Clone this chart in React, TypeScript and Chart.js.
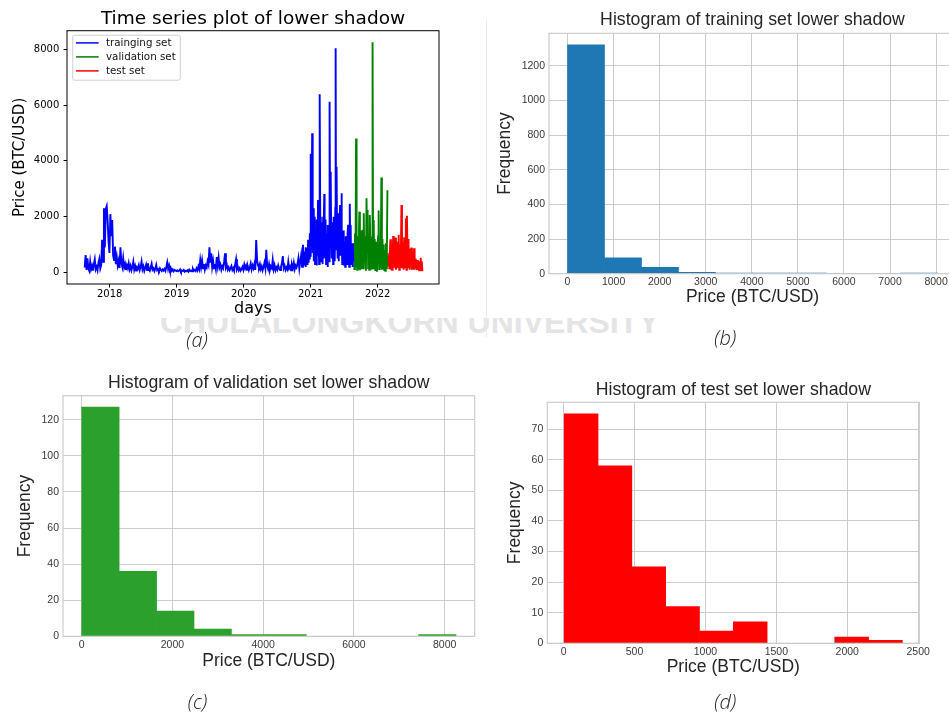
import React, { useEffect, useRef } from "react";
import { Chart, registerables } from "chart.js";

Chart.register(...registerables);

// ---------------- (a) time series of the lower shadow ----------------
const TRAIN_START_YEAR = 2017.627;
const TRAIN_STEP_DAYS = 5;
const TRAIN_LATE_START_YEAR = 2020.896;
const TRAIN_LATE_STEP_DAYS = 2;
const VAL_START_YEAR = 2021.636;
const VAL_STEP_DAYS = 3;
const TEST_START_YEAR = 2022.149;
const TEST_STEP_DAYS = 3;

const seriesLabels = ["trainging set", "validation set", "test set"];

// training set, Aug 2017 - Nov 2020 (every 5 days)
const trainValues = [
  180, 620, 90, 510, 150, 60, 390, 120, 240, 70, 300, 470, 110, 200, 80, 350, 490, 140, 260, 1170,
  380, 2300, 900, 2280, 2380, 1885, 1100, 700, 2090, 1300, 1880, 600, 450, 930, 300, 550, 250,
  420, 160, 900, 350, 200, 510, 180, 300, 90, 260, 150, 330, 120, 240, 80, 200, 390, 100, 230, 70, 180, 140, 260, 90,
  200, 390, 110, 220, 60, 170, 280, 90, 330, 120, 60, 180, 310, 100, 150, 50, 140, 270, 80, 120,
  60, 150, 90, 50, 110, 70, 130, 60, 200, 360, 120, 250, 90, 150, 60, 110, 40, 90, 70, 50,
  80, 40, 60, 110, 30, 70, 50, 90, 30, 60, 40, 80, 30, 100, 50, 70, 40, 130, 60, 90, 50, 150,
  80, 220, 120, 450, 200, 430, 150, 300, 100, 250, 180, 400, 280, 900, 350, 690, 200, 420, 150, 300,
  120, 550, 250, 530, 180, 280, 100, 220, 150, 380, 690, 180, 270, 100, 180, 80, 150, 230, 90, 160,
  60, 280, 470, 120, 200, 80, 150, 60, 120, 200, 90,
  280, 150, 250, 100, 200, 80, 180, 320, 110, 250, 150, 300, 90, 1160, 420, 250, 180, 300, 120, 220,
  80, 200, 350, 150, 810, 230, 120, 300, 90, 200, 150, 450, 120, 260, 80, 180, 100, 250, 130, 90,
  200, 330, 590, 150, 240, 90, 180, 110, 390, 150, 220, 80, 280, 160, 350, 120, 250, 180, 300, 510,
  150, 400, 630, 200, 990,
];

// training set, Nov 2020 - Aug 2021 (every 2 days)
const trainLateValues = [
  300, 700, 250, 750, 400, 900, 200, 600, 870, 300, 800, 450, 1170, 350, 900, 500, 1000, 1410, 600,
  4250, 1200, 800, 2000, 4990, 1500, 700, 2300, 400, 1300, 900, 2000, 300, 1400, 800, 1100, 250, 1900, 900, 1400,
  2600, 600, 1200, 300, 1600, 6390, 2000, 900, 1500, 400, 1800, 700, 1300, 300, 2000, 1000, 1600, 2810, 500, 1200,
  700, 1900, 300, 1400, 900, 1200, 200, 1700, 800, 1500, 400, 2100, 6120, 1600, 900, 3610, 1200, 500, 1800, 800,
  1400, 300, 2000, 1100, 600, 1500, 400, 2300, 8030, 1400, 800, 3790, 1300, 500, 1600, 2120, 400, 1300, 800, 1700,
  2420, 600, 1500, 900, 2840, 1200, 300, 1000, 700, 1500, 250, 1100, 600, 900, 200, 1300, 500, 800, 1170, 300,
  900, 1400, 1710, 400, 1000, 200, 1200, 2460, 800, 1700, 300, 1000, 500, 800, 200, 1050, 400,
];

const validationValues = [
  400, 1050, 120, 1400, 200, 4800, 900, 100, 1300, 150,
  1100, 2180, 80, 900, 1500, 120, 1200, 1530, 150, 2120,
  400, 1300, 800, 60, 2660, 1000, 2240, 150, 1400, 100,
  2060, 900, 1290, 100, 700, 8250, 150, 1880, 400, 1200,
  90, 900, 1100, 30, 800, 1300, 2220, 120, 1100, 200,
  900, 3400, 100, 1200, 150, 1000, 100, 800, 60, 1050,
  150, 700, 2950,
];

const testValues = [
  700, 250, 600, 150, 800, 1190, 100, 900, 100, 700,
  1310, 150, 1000, 200, 1250, 100, 600, 1100, 150, 900,
  1350, 100, 1000, 200, 800, 2420, 150, 1100, 600, 100,
  1260, 150, 900, 1940, 100, 2030, 700, 1200, 150, 600,
  100, 850, 200, 890, 100, 700, 100, 600, 870, 100,
  500, 150, 450, 80, 450, 100, 350, 80, 400, 100,
  530, 80, 400, 50,
];

const yearTicks = [2018, 2019, 2020, 2021, 2022];
const priceTicks = [0, 2000, 4000, 6000, 8000];
const YEAR_AXIS_MIN = 2017.363;
const YEAR_AXIS_MAX = 2022.915;
const PRICE_AXIS_MIN = -412.5;
const PRICE_AXIS_MAX = 8662.5;

// ---------------- (b)(c)(d) histograms ----------------
const trainBinStart = 0;
const trainBinWidth = 803;
const trainCounts = [1321, 91, 37, 8, 2, 1, 2, 0, 0, 1];
const trainPriceTicks = [0, 1000, 2000, 3000, 4000, 5000, 6000, 7000, 8000];
const trainFreqTicks = [0, 200, 400, 600, 800, 1000, 1200];

const valBinStart = 0;
const valBinWidth = 825;
const valCounts = [127, 36, 14, 4, 1, 1, 0, 0, 0, 1];
const valPriceTicks = [0, 2000, 4000, 6000, 8000];
const valFreqTicks = [0, 20, 40, 60, 80, 100, 120];

const testBinStart = 4;
const testBinWidth = 238.5;
const testCounts = [75, 58, 25, 12, 4, 7, 0, 0, 2, 1];
const testPriceTicks = [0, 500, 1000, 1500, 2000, 2500];
const testFreqTicks = [0, 10, 20, 30, 40, 50, 60, 70];

// ---------------- styles ----------------
const DEJAVU = "'DejaVu Sans', sans-serif";
const ARIAL = "'Liberation Sans', Arial, sans-serif";
const TEXT_DARK = "#262626";
const TICK_GRAY = "#3a3a3a";
const GRID = "#cccccc";

const framePlugin = (color: string, width: number) => ({
  id: "frame",
  afterDatasetsDraw(chart: any) {
    const { ctx, chartArea } = chart;
    ctx.save();
    ctx.strokeStyle = color;
    ctx.lineWidth = width;
    ctx.strokeRect(chartArea.left, chartArea.top, chartArea.right - chartArea.left, chartArea.bottom - chartArea.top);
    ctx.restore();
  },
});

const boxLegendPlugin = {
  id: "boxLegend",
  afterDatasetsDraw(chart: any) {
    const { ctx, chartArea } = chart;
    const x0 = chartArea.left + 5.7;
    const y0 = chartArea.top + 4.5;
    ctx.save();
    ctx.fillStyle = "rgba(255,255,255,0.85)";
    ctx.strokeStyle = "#d0d0d0";
    ctx.lineWidth = 1;
    ctx.beginPath();
    if ((ctx as any).roundRect) (ctx as any).roundRect(x0, y0, 107.6, 45, 2);
    else ctx.rect(x0, y0, 107.6, 45);
    ctx.fill();
    ctx.stroke();
    chart.data.datasets.forEach((ds: any, i: number) => {
      const y = y0 + 7.7 + i * 14;
      ctx.strokeStyle = ds.borderColor;
      ctx.lineWidth = 1.5;
      ctx.beginPath();
      ctx.moveTo(x0 + 3.3, y);
      ctx.lineTo(x0 + 26, y);
      ctx.stroke();
      ctx.fillStyle = "#111";
      ctx.font = `10.3px ${DEJAVU}`;
      ctx.textBaseline = "middle";
      ctx.textAlign = "left";
      ctx.fillText(ds.label, x0 + 33.3, y);
    });
    ctx.restore();
  },
};

const toPoints = (values: number[], startYear: number, stepDays: number) =>
  values.map((v, i) => ({ x: startYear + (i * stepDays) / 365.25, y: v }));

function timeSeriesConfig(): any {
  const line = (label: string, data: any[], color: string) => ({
    label,
    data,
    borderColor: color,
    backgroundColor: color,
    borderWidth: 1.9,
    pointRadius: 0,
    tension: 0,
    fill: false,
  });
  const trainPoints = toPoints(trainValues, TRAIN_START_YEAR, TRAIN_STEP_DAYS).concat(
    toPoints(trainLateValues, TRAIN_LATE_START_YEAR, TRAIN_LATE_STEP_DAYS)
  );
  return {
    type: "line",
    data: {
      datasets: [
        line(seriesLabels[0], trainPoints, "#0000ff"),
        line(seriesLabels[1], toPoints(validationValues, VAL_START_YEAR, VAL_STEP_DAYS), "#008000"),
        line(seriesLabels[2], toPoints(testValues, TEST_START_YEAR, TEST_STEP_DAYS), "#ff0000"),
      ],
    },
    options: {
      responsive: false,
      animation: false,
      devicePixelRatio: 1,
      events: [],
      layout: { padding: { left: 0, top: 0, right: 41, bottom: 11.4 } },
      plugins: {
        legend: { display: false },
        tooltip: { enabled: false },
        title: {
          display: true,
          text: "Time series plot of lower shadow",
          color: "#000",
          font: { family: DEJAVU, size: 18.5, weight: "normal", lineHeight: 1.2 },
          padding: { top: 8.5, bottom: 0 },
          fullSize: false,
        },
      },
      scales: {
        x: {
          type: "linear",
          min: YEAR_AXIS_MIN,
          max: YEAR_AXIS_MAX,
          afterBuildTicks: (s: any) => {
            s.ticks = yearTicks.map((v) => ({ value: v }));
          },
          afterFit: (s: any) => {
            s.height = 34.6;
          },
          ticks: {
            color: "#000",
            font: { family: DEJAVU, size: 10 },
            padding: 1,
            maxRotation: 0,
            autoSkip: false,
            callback: (v: any) => String(v),
          },
          grid: { display: true, drawOnChartArea: false, drawTicks: true, tickLength: 3.5, color: "#000" },
          border: { display: false },
          title: {
            display: true,
            text: "days",
            color: "#000",
            font: { family: DEJAVU, size: 16 },
            padding: { top: 0, bottom: 0 },
          },
        },
        y: {
          type: "linear",
          min: PRICE_AXIS_MIN,
          max: PRICE_AXIS_MAX,
          afterBuildTicks: (s: any) => {
            s.ticks = priceTicks.map((v) => ({ value: v }));
          },
          afterFit: (s: any) => {
            s.width = 67;
          },
          ticks: {
            color: "#000",
            font: { family: DEJAVU, size: 10 },
            padding: 4.2,
            callback: (v: any) => String(v),
          },
          grid: { display: true, drawOnChartArea: false, drawTicks: true, tickLength: 3.5, color: "#000" },
          border: { display: false },
          title: {
            display: true,
            text: "Price (BTC/USD)",
            color: "#000",
            font: { family: DEJAVU, size: 15 },
            padding: { top: 11.1, bottom: 0 },
          },
        },
      },
    },
    plugins: [framePlugin("#000", 1), boxLegendPlugin],
  };
}

type HistGeom = {
  yAxisWidth: number;
  xAxisHeight: number;
  padRight: number;
  padBottom: number;
  titlePadTop: number;
  titlePadBottom: number;
  yTitlePad: number;
  xTitlePadBottom: number;
};

function histConfig(
  title: string,
  counts: number[],
  binStart: number,
  binWidth: number,
  xTicks: number[],
  yTicks: number[],
  color: string,
  g: HistGeom
): any {
  const span = counts.length * binWidth;
  const xMin = binStart - 0.05 * span;
  const xMax = binStart + span * 1.05;
  const yMax = Math.max(...counts) * 1.05;
  return {
    type: "bar",
    data: {
      datasets: [
        {
          label: "Frequency",
          data: counts.map((c, i) => ({ x: binStart + (i + 0.5) * binWidth, y: c })),
          backgroundColor: color,
          borderWidth: 0,
          barPercentage: 1,
          categoryPercentage: 1,
        },
      ],
    },
    options: {
      responsive: false,
      animation: false,
      devicePixelRatio: 1,
      events: [],
      layout: { padding: { left: 0, top: 0, right: g.padRight, bottom: g.padBottom } },
      plugins: {
        legend: { display: false },
        tooltip: { enabled: false },
        title: {
          display: true,
          text: title,
          color: TEXT_DARK,
          font: { family: ARIAL, size: 17.7, weight: "normal", lineHeight: 1.2 },
          padding: { top: g.titlePadTop, bottom: g.titlePadBottom },
          fullSize: false,
        },
      },
      scales: {
        x: {
          type: "linear",
          offset: false,
          min: xMin,
          max: xMax,
          afterBuildTicks: (s: any) => {
            s.ticks = xTicks.map((v) => ({ value: v }));
          },
          afterFit: (s: any) => {
            s.height = g.xAxisHeight;
          },
          ticks: {
            color: TICK_GRAY,
            font: { family: ARIAL, size: 10.5 },
            padding: 2.3,
            maxRotation: 0,
            autoSkip: false,
            callback: (v: any) => String(v),
          },
          grid: { color: GRID, lineWidth: 1, drawTicks: false, offset: false },
          border: { display: false },
          title: {
            display: true,
            text: "Price (BTC/USD)",
            color: TEXT_DARK,
            font: { family: ARIAL, size: 17.5 },
            padding: { top: 0, bottom: g.xTitlePadBottom },
          },
        },
        y: {
          type: "linear",
          min: 0,
          max: yMax,
          afterBuildTicks: (s: any) => {
            s.ticks = yTicks.map((v) => ({ value: v }));
          },
          afterFit: (s: any) => {
            s.width = g.yAxisWidth;
          },
          ticks: {
            color: TICK_GRAY,
            font: { family: ARIAL, size: 10.5 },
            padding: 4,
            callback: (v: any) => String(v),
          },
          grid: { color: GRID, lineWidth: 1, drawTicks: false },
          border: { display: false },
          title: {
            display: true,
            text: "Frequency",
            color: TEXT_DARK,
            font: { family: ARIAL, size: 17.5 },
            padding: { top: g.yTitlePad, bottom: 0 },
          },
        },
      },
    },
    plugins: [framePlugin(GRID, 1.2)],
  };
}

function ChartCanvas(props: { left: number; top: number; width: number; height: number; makeConfig: () => any }) {
  const ref = useRef<HTMLCanvasElement | null>(null);
  useEffect(() => {
    if (!ref.current) return;
    const chart = new Chart(ref.current, props.makeConfig());
    return () => chart.destroy();
  }, []);
  return (
    <div style={{ position: "absolute", left: props.left, top: props.top, width: props.width, height: props.height }}>
      <canvas
        ref={ref}
        width={props.width}
        height={props.height}
        style={{ display: "block", width: props.width, height: props.height }}
      />
    </div>
  );
}

function PanelLabel(props: { cx: number; top: number; text: string }) {
  return (
    <div
      style={{
        position: "absolute",
        left: props.cx - 30,
        top: props.top,
        width: 60,
        textAlign: "center",
        fontFamily: "'Open Sans', sans-serif",
        fontStyle: "italic",
        fontWeight: 300,
        fontSize: 20,
        lineHeight: "24px",
        color: "#222",
      }}
    >
      {props.text}
    </div>
  );
}

export default function App() {
  return (
    <div
      style={{
        position: "fixed",
        left: 0,
        top: 0,
        width: 949,
        height: 717,
        background: "#ffffff",
        overflow: "hidden",
      }}
    >
      {/* faint background watermark, only its lower band shows */}
      <div style={{ position: "absolute", left: 0, top: 318, width: 949, height: 16.5, overflow: "hidden" }}>
        <div
          style={{
            position: "absolute",
            left: 160,
            top: -11.6,
            whiteSpace: "nowrap",
            fontFamily: "'Liberation Sans', Arial, sans-serif",
            fontWeight: 700,
            fontSize: 32,
            lineHeight: "32px",
            color: "#e4e4e4",
          }}
        >
          CHULALONGKORN UNIVERSITY
        </div>
      </div>
      <div style={{ position: "absolute", left: 486, top: 20, width: 1, height: 317, background: "#ebebeb" }} />

      <ChartCanvas left={0} top={0} width={480} height={330} makeConfig={timeSeriesConfig} />
      <ChartCanvas
        left={480}
        top={0}
        width={490}
        height={330}
        makeConfig={() =>
          histConfig("Histogram of training set lower shadow", trainCounts, trainBinStart, trainBinWidth, trainPriceTicks, trainFreqTicks, "#1f77b4", {
            yAxisWidth: 69,
            xAxisHeight: 40,
            padRight: 14,
            padBottom: 16.3,
            titlePadTop: 9.9,
            titlePadBottom: 2.2,
            yTitlePad: 14.9,
            xTitlePadBottom: 5.7,
          })
        }
      />
      <ChartCanvas
        left={0}
        top={360}
        width={480}
        height={330}
        makeConfig={() =>
          histConfig("Histogram of validation set lower shadow", valCounts, valBinStart, valBinWidth, valPriceTicks, valFreqTicks, "#2ca02c", {
            yAxisWidth: 63,
            xAxisHeight: 40,
            padRight: 5.3,
            padBottom: 13.7,
            titlePadTop: 12.6,
            titlePadBottom: 1.86,
            yTitlePad: 14.2,
            xTitlePadBottom: 4.9,
          })
        }
      />
      <ChartCanvas
        left={480}
        top={370}
        width={469}
        height={320}
        makeConfig={() =>
          histConfig("Histogram of test set lower shadow", testCounts, testBinStart, testBinWidth, testPriceTicks, testFreqTicks, "#ff0000", {
            yAxisWidth: 67.3,
            xAxisHeight: 40,
            padRight: 29.7,
            padBottom: 6.7,
            titlePadTop: 9,
            titlePadBottom: 2.06,
            yTitlePad: 24.9,
            xTitlePadBottom: 5.3,
          })
        }
      />

      <PanelLabel cx={197} top={327.9} text="(a)" />
      <PanelLabel cx={725.3} top={326.2} text="(b)" />
      <PanelLabel cx={197.5} top={689.6} text="(c)" />
      <PanelLabel cx={725.3} top={689.6} text="(d)" />
    </div>
  );
}
